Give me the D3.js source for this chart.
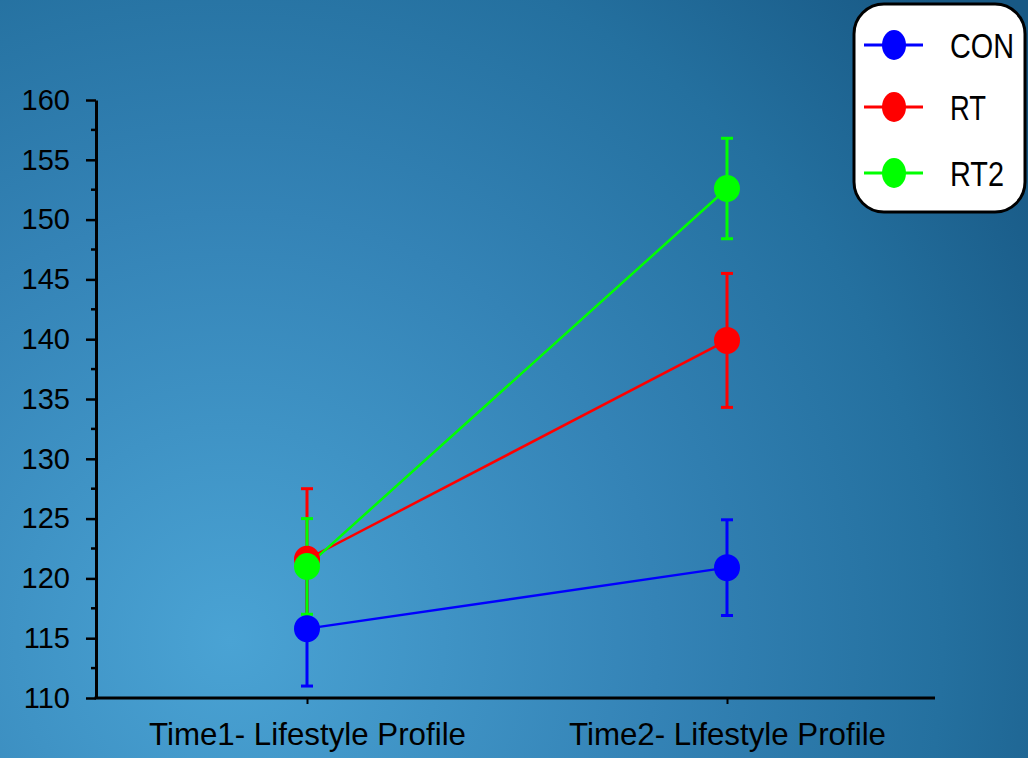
<!DOCTYPE html>
<html><head><meta charset="utf-8">
<script src="https://cdn.jsdelivr.net/npm/d3@7"></script>
<style>html,body{margin:0;padding:0;background:#2a7aaa;}svg{display:block;}</style>
</head><body>
<svg id="chart" width="1028" height="758"></svg>
<script>
const categories = ["Time1- Lifestyle Profile", "Time2- Lifestyle Profile"];
const seriesNames = ["CON", "RT", "RT2"];
const seriesColors = ["#0000ff", "#ff0000", "#00ff00"];
const conMean = [115.8, 120.9];
const conErr = [4.8, 4.0];
const rtMean = [121.6, 139.9];
const rtErr = [5.9, 5.6];
const rt2Mean = [121.0, 152.6];
const rt2Err = [4.0, 4.2];
const yTicks = [110, 115, 120, 125, 130, 135, 140, 145, 150, 155, 160];

const series = [
  {name: seriesNames[0], color: seriesColors[0], mean: conMean, err: conErr},
  {name: seriesNames[1], color: seriesColors[1], mean: rtMean, err: rtErr},
  {name: seriesNames[2], color: seriesColors[2], mean: rt2Mean, err: rt2Err}
];

const svg = d3.select("#chart");
const W = 1028, H = 758;

// background gradient
const defs = svg.append("defs");
const rg = defs.append("radialGradient").attr("id", "bg")
  .attr("gradientUnits", "userSpaceOnUse")
  .attr("cx", 230).attr("cy", 640).attr("r", 950);
rg.append("stop").attr("offset", "0%").attr("stop-color", "#4aa3d4");
rg.append("stop").attr("offset", "45%").attr("stop-color", "#3483b6");
rg.append("stop").attr("offset", "75%").attr("stop-color", "#24709f");
rg.append("stop").attr("offset", "100%").attr("stop-color", "#185985");
svg.append("rect").attr("width", W).attr("height", H).attr("fill", "url(#bg)");

const x0 = 96, x1 = 935, yTop = 100, yBot = 698;
const y = d3.scaleLinear().domain([110, 160]).range([yBot, yTop]);
const x = d3.scalePoint().domain(categories).range([307, 727]);

// Y axis
const yAxis = d3.axisLeft(y).tickValues(yTicks).tickSize(10).tickSizeOuter(0).tickPadding(16);
const gy = svg.append("g").attr("transform", `translate(${x0},0)`).call(yAxis);
gy.select(".domain").attr("stroke", "#000").attr("stroke-width", 3);
gy.selectAll(".tick line").attr("stroke", "#000").attr("stroke-width", 2.5);
gy.selectAll(".tick text").attr("fill", "#000").style("font-family", "Arial, 'Liberation Sans', sans-serif").style("font-size", "29px");
// minor ticks
const minor = d3.range(112.5, 160, 5);
svg.append("g").selectAll("line").data(minor).join("line")
  .attr("x1", x0 - 5).attr("x2", x0).attr("y1", d => y(d)).attr("y2", d => y(d))
  .attr("stroke", "#000").attr("stroke-width", 2.5);

// X axis
svg.append("line").attr("x1", x0 - 1.5).attr("x2", x1).attr("y1", yBot).attr("y2", yBot)
  .attr("stroke", "#000").attr("stroke-width", 3);
const xAxis = d3.axisBottom(x).tickSize(6).tickSizeOuter(0).tickPadding(18);
const gx = svg.append("g").attr("transform", `translate(0,${yBot})`).call(xAxis);
gx.select(".domain").remove();
gx.selectAll(".tick line").attr("stroke", "#000").attr("stroke-width", 2);
gx.selectAll(".tick text").attr("fill", "#000")
  .style("font-family", "Arial, 'Liberation Sans', sans-serif").style("font-size", "32px")
  .attr("textLength", 317).attr("lengthAdjust", "spacingAndGlyphs");

// series
const line = d3.line().x((d, i) => x(categories[i])).y(d => y(d));
series.forEach(s => {
  const g = svg.append("g");
  g.append("path").attr("d", line(s.mean)).attr("fill", "none").attr("stroke", s.color).attr("stroke-width", 2.5);
});
series.forEach(s => {
  const g = svg.append("g");
  s.mean.forEach((m, i) => {
    const cx = x(categories[i]);
    const lo = y(m - s.err[i]), hi = y(m + s.err[i]);
    g.append("line").attr("x1", cx).attr("x2", cx).attr("y1", lo).attr("y2", hi).attr("stroke", s.color).attr("stroke-width", 3);
    [lo, hi].forEach(yy => g.append("line").attr("x1", cx - 6).attr("x2", cx + 6).attr("y1", yy).attr("y2", yy).attr("stroke", s.color).attr("stroke-width", 3));
  });
});
series.forEach(s => {
  svg.append("g").selectAll("ellipse").data(s.mean).join("ellipse")
    .attr("cx", (d, i) => x(categories[i])).attr("cy", d => y(d))
    .attr("rx", 13).attr("ry", 13.5).attr("fill", s.color);
});

// legend
const lg = svg.append("g");
lg.append("rect").attr("x", 854).attr("y", 4).attr("width", 171).attr("height", 208)
  .attr("rx", 30).attr("ry", 30).attr("fill", "#fff").attr("stroke", "#000").attr("stroke-width", 3);
const legY = [45, 107, 173];
const legWidths = [64, 36, 54];
series.forEach((s, i) => {
  lg.append("line").attr("x1", 864).attr("x2", 923).attr("y1", legY[i]).attr("y2", legY[i]).attr("stroke", s.color).attr("stroke-width", 3);
  lg.append("ellipse").attr("cx", 894).attr("cy", legY[i]).attr("rx", 12).attr("ry", 15).attr("fill", s.color);
  lg.append("text").attr("x", 950).attr("y", legY[i] + 13).text(s.name)
    .attr("fill", "#000").style("font-family", "Arial, 'Liberation Sans', sans-serif").style("font-size", "35px")
    .attr("textLength", legWidths[i]).attr("lengthAdjust", "spacingAndGlyphs");
});
</script>
</body></html>
